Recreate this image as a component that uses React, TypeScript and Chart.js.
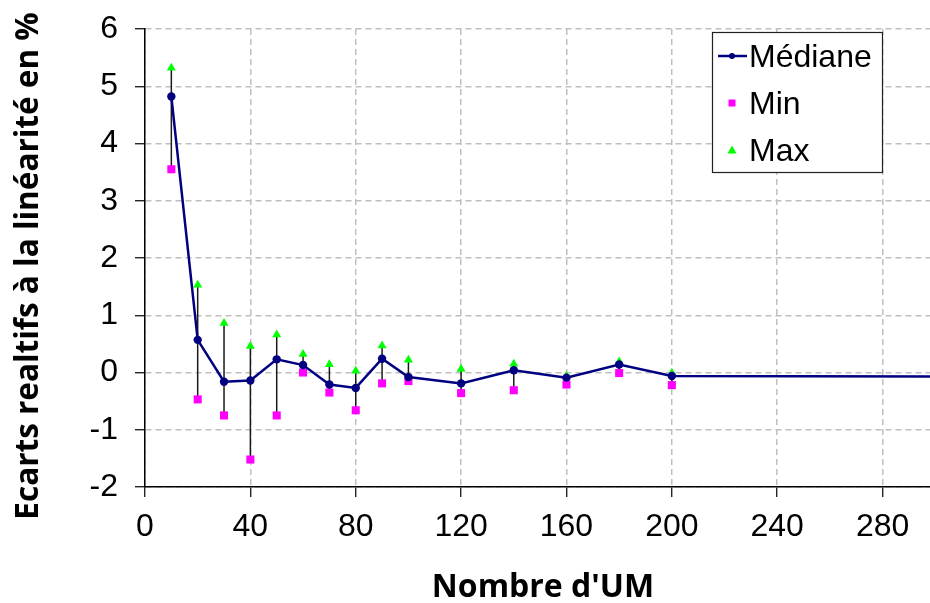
import React, { useEffect, useRef } from "react";
import { Chart, registerables } from "chart.js";

Chart.register(...registerables);

const xValues = [10, 20, 30, 40, 50, 60, 70, 80, 90, 100, 120, 140, 160, 180, 200];
const medianValues = [4.82, 0.57, -0.16, -0.14, 0.23, 0.13, -0.21, -0.27, 0.24, -0.08, -0.19, 0.04, -0.09, 0.14, -0.06];
const minValues = [3.55, -0.47, -0.75, -1.52, -0.75, 0.0, -0.35, -0.66, -0.19, -0.15, -0.36, -0.31, -0.21, -0.01, -0.22];
const maxValues = [5.32, 1.53, 0.86, 0.46, 0.66, 0.32, 0.14, 0.03, 0.47, 0.22, 0.06, 0.15, -0.06, 0.19, -0.01];
const medianTail = { x: 300, y: -0.07 };

const seriesNames = ["Médiane", "Min", "Max"];
const yTitle = "Ecarts realtifs à la linéarité en %";
const xTitle = "Nombre d'UM";

const NAVY = "#000080";
const MAGENTA = "#ff00ff";
const GREEN = "#00ff00";
const TICK_FONT = "'Liberation Sans', Arial, sans-serif";
const X_TITLE_FONT = "bold 32px 'Open Sans', 'Noto Sans', sans-serif";
const Y_TITLE_FONT = "bold 31.5px 'Open Sans', 'Noto Sans', sans-serif";

const errorBarsPlugin = {
  id: "errorBars",
  beforeDatasetsDraw(chart: any) {
    const { ctx, chartArea, scales } = chart;
    const x = scales.x;
    const y = scales.y;
    ctx.save();
    ctx.beginPath();
    ctx.rect(chartArea.left, chartArea.top, chartArea.right - chartArea.left, chartArea.bottom - chartArea.top);
    ctx.clip();
    ctx.strokeStyle = "#1a1a1a";
    ctx.lineWidth = 1.5;
    xValues.forEach((v, i) => {
      const px = x.getPixelForValue(v);
      ctx.beginPath();
      ctx.moveTo(px, y.getPixelForValue(minValues[i]));
      ctx.lineTo(px, y.getPixelForValue(maxValues[i]));
      ctx.stroke();
    });
    ctx.restore();
  },
};

const titlesPlugin = {
  id: "axisTitles",
  afterDraw(chart: any) {
    const { ctx } = chart;
    ctx.save();
    ctx.fillStyle = "#000";
    ctx.textAlign = "center";
    ctx.textBaseline = "alphabetic";
    ctx.font = X_TITLE_FONT;
    ctx.fillText(xTitle, 543, 597);
    ctx.font = Y_TITLE_FONT;
    ctx.translate(38, 266);
    ctx.rotate(-Math.PI / 2);
    ctx.fillText(yTitle, 0, 0);
    ctx.restore();
  },
};

const legendBoxPlugin = {
  id: "legendBox",
  afterDraw(chart: any) {
    const { ctx } = chart;
    ctx.save();
    const bx = 712, by = 32, bw = 170, bh = 140;
    ctx.fillStyle = "#ffffff";
    ctx.fillRect(bx, by, bw, bh);
    ctx.strokeStyle = "#222";
    ctx.lineWidth = 1.2;
    ctx.strokeRect(bx + 0.5, by + 0.5, bw, bh);
    const symX = 732;
    const rows = [56, 103, 150];
    ctx.strokeStyle = NAVY;
    ctx.lineWidth = 2.5;
    ctx.beginPath();
    ctx.moveTo(718, rows[0]);
    ctx.lineTo(747, rows[0]);
    ctx.stroke();
    ctx.fillStyle = NAVY;
    ctx.beginPath();
    ctx.arc(symX, rows[0], 3, 0, Math.PI * 2);
    ctx.fill();
    ctx.fillStyle = MAGENTA;
    ctx.fillRect(symX - 3.5, rows[1] - 3.5, 7, 7);
    ctx.fillStyle = GREEN;
    ctx.beginPath();
    ctx.moveTo(symX, rows[2] - 4.5);
    ctx.lineTo(symX + 4.5, rows[2] + 3.5);
    ctx.lineTo(symX - 4.5, rows[2] + 3.5);
    ctx.closePath();
    ctx.fill();
    ctx.fillStyle = "#000";
    ctx.font = "32px " + TICK_FONT;
    ctx.textBaseline = "alphabetic";
    ctx.textAlign = "left";
    const baselines = [67, 114, 161];
    seriesNames.forEach((n, i) => ctx.fillText(n, 749, baselines[i]));
    ctx.restore();
  },
};

function zeroPadding(scale: any) {
  scale.paddingLeft = 0;
  scale.paddingRight = 0;
  scale.paddingTop = 0;
  scale.paddingBottom = 0;
}

export default function App() {
  const ref = useRef<HTMLCanvasElement | null>(null);

  useEffect(() => {
    document.body.style.margin = "0";
    if (!ref.current) return;
    const medianData = xValues.map((x, i) => ({ x, y: medianValues[i] }));
    medianData.push({ x: medianTail.x, y: medianTail.y });
    const medianRadius = xValues.map(() => 4.2).concat([0]);
    const gridCommon = {
      color: "#bfbfbf",
      lineWidth: 1.5,
      tickColor: "#000",
      tickLength: 10,
      tickWidth: 1.2,
      tickBorderDash: [],
    };
    const chart = new Chart(ref.current, {
      type: "line",
      data: {
        datasets: [
          {
            label: seriesNames[1],
            data: xValues.map((x, i) => ({ x, y: minValues[i] })),
            showLine: false,
            pointStyle: "rect",
            pointRadius: 5.7,
            pointBackgroundColor: MAGENTA,
            pointBorderColor: MAGENTA,
            pointBorderWidth: 0,
            order: 2,
          },
          {
            label: seriesNames[2],
            data: xValues.map((x, i) => ({ x, y: maxValues[i] })),
            showLine: false,
            pointStyle: "triangle",
            pointRadius: 5.2,
            pointBackgroundColor: GREEN,
            pointBorderColor: GREEN,
            pointBorderWidth: 0,
            order: 1,
          },
          {
            label: seriesNames[0],
            data: medianData,
            borderColor: NAVY,
            borderWidth: 2.5,
            pointStyle: "circle",
            pointRadius: medianRadius,
            pointBackgroundColor: NAVY,
            pointBorderColor: NAVY,
            pointBorderWidth: 0,
            tension: 0,
            order: 0,
          },
        ],
      },
      options: {
        responsive: false,
        animation: false,
        devicePixelRatio: 1,
        layout: { autoPadding: false, padding: { top: 29, right: 0, left: 0, bottom: 0 } },
        plugins: {
          legend: { display: false },
          tooltip: { enabled: false },
        },
        scales: {
          x: {
            type: "linear",
            min: 0,
            max: 298,
            ticks: {
              stepSize: 40,
              includeBounds: false,
              color: "#000",
              font: { family: TICK_FONT, size: 32 },
              padding: 11,
              maxRotation: 0,
              autoSkip: false,
            },
            grid: gridCommon,
            border: { display: true, color: "#000", width: 1.5, dash: [6, 4] },
            afterFit(scale: any) {
              scale.height = 116;
              zeroPadding(scale);
            },
          },
          y: {
            type: "linear",
            min: -2,
            max: 6,
            ticks: {
              stepSize: 1,
              color: "#000",
              font: { family: TICK_FONT, size: 32 },
              padding: 17,
              autoSkip: false,
            },
            grid: gridCommon,
            border: { display: true, color: "#000", width: 1.5, dash: [6, 4] },
            afterFit(scale: any) {
              scale.width = 145;
              zeroPadding(scale);
            },
          },
        },
      },
      plugins: [errorBarsPlugin, legendBoxPlugin, titlesPlugin],
    } as any);
    return () => chart.destroy();
  }, []);

  return (
    <div style={{ width: 930, height: 603 }}>
      <canvas ref={ref} width={930} height={603} style={{ display: "block" }} />
    </div>
  );
}
